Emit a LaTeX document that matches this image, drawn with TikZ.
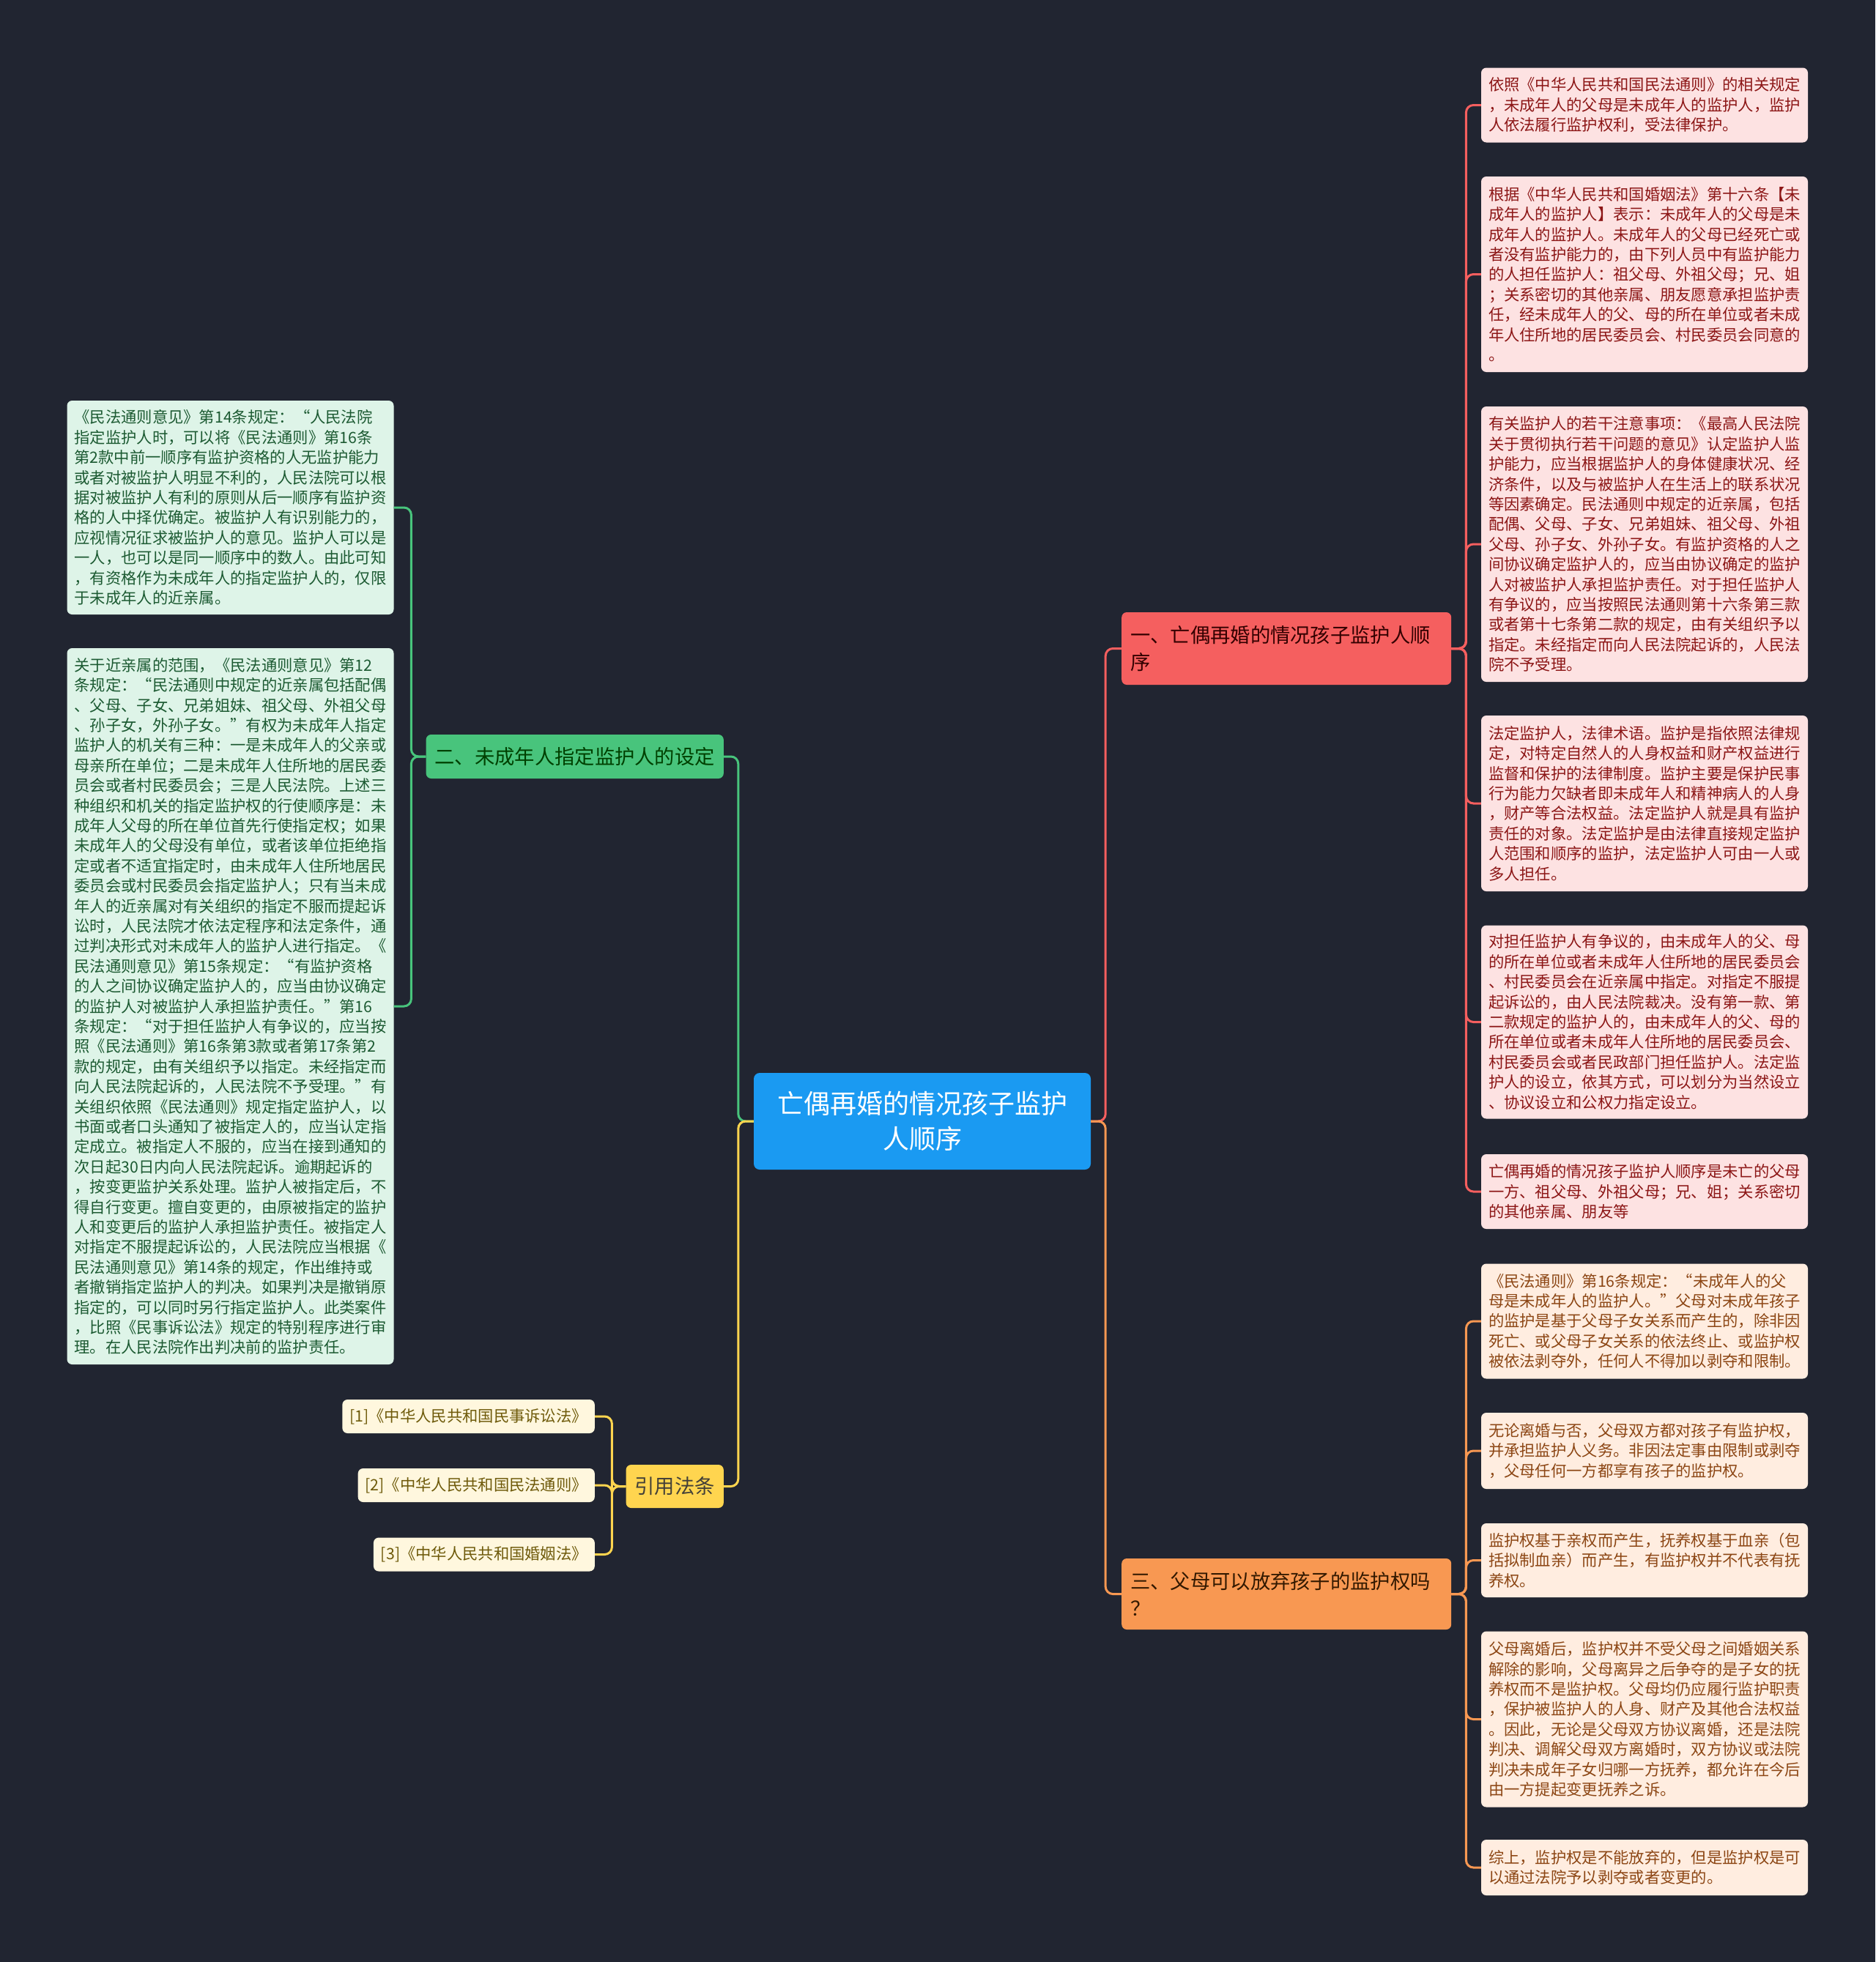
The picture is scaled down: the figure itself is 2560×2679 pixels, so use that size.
\documentclass[tikz,border=0pt]{standalone}
\usepackage{fontspec}
\setmainfont{Noto Sans CJK SC}
\usepackage{xcolor}
\usepackage{tikz}
\usetikzlibrary{positioning}

\definecolor{bgdark}{RGB}{33,37,49}
\definecolor{rootblue}{RGB}{26,154,242}
\definecolor{redmain}{RGB}{245,95,95}
\definecolor{orangemain}{RGB}{248,152,82}
\definecolor{greenmain}{RGB}{72,196,124}
\definecolor{yellowmain}{RGB}{255,213,79}
\definecolor{redleaffill}{RGB}{253,226,226}
\definecolor{orangeleaffill}{RGB}{255,237,224}
\definecolor{greenleaffill}{RGB}{222,244,232}
\definecolor{citefill}{RGB}{255,247,222}
\definecolor{redtxt}{RGB}{140,22,22}
\definecolor{orangetxt}{RGB}{140,70,20}
\definecolor{greentxt}{RGB}{28,90,50}
\definecolor{citetxt}{RGB}{110,90,10}

\begin{document}
\begin{tikzpicture}[x=1pt, y=-1pt,
  root/.style={rectangle, rounded corners=8pt, fill=rootblue, text=white, align=center, minimum width=460pt, minimum height=132pt, font=\fontsize{36}{48}\selectfont},
  branch/.style={rectangle, rounded corners=7pt, inner xsep=12pt, align=left, font=\fontsize{27.3}{37.6}\selectfont},
  leaf/.style={rectangle, rounded corners=7pt, text width=426pt, inner xsep=10pt, inner ysep=10pt, align=left, font=\fontsize{21.3}{27.4}\selectfont},
  redleaf/.style={leaf, fill=redleaffill, text=redtxt},
  orangeleaf/.style={leaf, fill=orangeleaffill, text=orangetxt},
  greenleaf/.style={leaf, fill=greenleaffill, text=greentxt},
  cite/.style={rectangle, rounded corners=7pt, fill=citefill, text=citetxt, inner xsep=10pt, minimum height=46pt, font=\fontsize{21.3}{26}\selectfont},
  link/.style={line width=3pt, rounded corners=10pt}
]
% Background
\fill[bgdark] (0,0) rectangle (2560,2679);
\useasboundingbox (0,0) rectangle (2560,2679);

% Central topic
\node[root] (root) at (1259,1531) {亡偶再婚的情况孩子监护\\人顺序};

% Branches
\node[branch, fill=redmain, text=black!80!red, anchor=west, text width=426pt, minimum height=99pt] (b1) at (1531,885.5) {一、亡偶再婚的情况孩子监护人顺\\序};
\node[branch, fill=orangemain, text=black!80!orange, anchor=west, text width=426pt, minimum height=97pt] (b3) at (1531,2176.5) {三、父母可以放弃孩子的监护权吗\\？};
\node[branch, fill=greenmain, text=black!75!green, anchor=east, minimum height=60pt] (b2) at (988,1033) {二、未成年人指定监护人的设定};
\node[branch, fill=yellowmain, text=black!85!yellow, anchor=east, minimum height=59pt] (b4) at (988,2029.5) {引用法条};

% Leaves of branch 1
\node[redleaf, minimum height=102pt] (r1) at (2245,143.5) {依照《中华人民共和国民法通则》的相关规定\\，未成年人的父母是未成年人的监护人，监护\\人依法履行监护权利，受法律保护。};
\node[redleaf, minimum height=267pt] (r2) at (2245,374.5) {根据《中华人民共和国婚姻法》第十六条【未\\成年人的监护人】表示：未成年人的父母是未\\成年人的监护人。未成年人的父母已经死亡或\\者没有监护能力的，由下列人员中有监护能力\\的人担任监护人：祖父母、外祖父母；兄、姐\\；关系密切的其他亲属、朋友愿意承担监护责\\任，经未成年人的父、母的所在单位或者未成\\年人住所地的居民委员会、村民委员会同意的\\。};
\node[redleaf, minimum height=376pt] (r3) at (2245,743) {有关监护人的若干注意事项：《最高人民法院\\关于贯彻执行若干问题的意见》认定监护人监\\护能力，应当根据监护人的身体健康状况、经\\济条件，以及与被监护人在生活上的联系状况\\等因素确定。民法通则中规定的近亲属，包括\\配偶、父母、子女、兄弟姐妹、祖父母、外祖\\父母、孙子女、外孙子女。有监护资格的人之\\间协议确定监护人的，应当由协议确定的监护\\人对被监护人承担监护责任。对于担任监护人\\有争议的，应当按照民法通则第十六条第三款\\或者第十七条第二款的规定，由有关组织予以\\指定。未经指定而向人民法院起诉的，人民法\\院不予受理。};
\node[redleaf, minimum height=240pt] (r4) at (2245,1097) {法定监护人，法律术语。监护是指依照法律规\\定，对特定自然人的人身权益和财产权益进行\\监督和保护的法律制度。监护主要是保护民事\\行为能力欠缺者即未成年人和精神病人的人身\\，财产等合法权益。法定监护人就是具有监护\\责任的对象。法定监护是由法律直接规定监护\\人范围和顺序的监护，法定监护人可由一人或\\多人担任。};
\node[redleaf, minimum height=264pt] (r5) at (2245,1395.5) {对担任监护人有争议的，由未成年人的父、母\\的所在单位或者未成年人住所地的居民委员会\\、村民委员会在近亲属中指定。对指定不服提\\起诉讼的，由人民法院裁决。没有第一款、第\\二款规定的监护人的，由未成年人的父、母的\\所在单位或者未成年人住所地的居民委员会、\\村民委员会或者民政部门担任监护人。法定监\\护人的设立，依其方式，可以划分为当然设立\\、协议设立和公权力指定设立。};
\node[redleaf, minimum height=102pt] (r6) at (2245,1627) {亡偶再婚的情况孩子监护人顺序是未亡的父母\\一方、祖父母、外祖父母；兄、姐；关系密切\\的其他亲属、朋友等};

% Leaves of branch 3
\node[orangeleaf, minimum height=157pt] (r7) at (2245,1804) {《民法通则》第16条规定：“未成年人的父\\母是未成年人的监护人。”父母对未成年孩子\\的监护是基于父母子女关系而产生的，除非因\\死亡、或父母子女关系的依法终止、或监护权\\被依法剥夺外，任何人不得加以剥夺和限制。};
\node[orangeleaf, minimum height=104pt] (r8) at (2245,1981) {无论离婚与否，父母双方都对孩子有监护权，\\并承担监护人义务。非因法定事由限制或剥夺\\，父母任何一方都享有孩子的监护权。};
\node[orangeleaf, minimum height=101pt] (r9) at (2245,2130.5) {监护权基于亲权而产生，抚养权基于血亲（包\\括拟制血亲）而产生，有监护权并不代表有抚\\养权。};
\node[orangeleaf, minimum height=240pt] (r10) at (2245,2347.5) {父母离婚后，监护权并不受父母之间婚姻关系\\解除的影响，父母离异之后争夺的是子女的抚\\养权而不是监护权。父母均仍应履行监护职责\\，保护被监护人的人身、财产及其他合法权益\\。因此，无论是父母双方协议离婚，还是法院\\判决、调解父母双方离婚时，双方协议或法院\\判决未成年子女归哪一方抚养，都允许在今后\\由一方提起变更抚养之诉。};
\node[orangeleaf, minimum height=76pt] (r11) at (2245,2550) {综上，监护权是不能放弃的，但是监护权是可\\以通过法院予以剥夺或者变更的。};

% Leaves of branch 2
\node[greenleaf, minimum height=292pt] (l1) at (314.5,693) {《民法通则意见》第14条规定：“人民法院\\指定监护人时，可以将《民法通则》第16条\\第2款中前一顺序有监护资格的人无监护能力\\或者对被监护人明显不利的，人民法院可以根\\据对被监护人有利的原则从后一顺序有监护资\\格的人中择优确定。被监护人有识别能力的，\\应视情况征求被监护人的意见。监护人可以是\\一人，也可以是同一顺序中的数人。由此可知\\，有资格作为未成年人的指定监护人的，仅限\\于未成年人的近亲属。};
\node[greenleaf, minimum height=978pt] (l2) at (314.5,1374) {关于近亲属的范围，《民法通则意见》第12\\条规定：“民法通则中规定的近亲属包括配偶\\、父母、子女、兄弟姐妹、祖父母、外祖父母\\、孙子女，外孙子女。”有权为未成年人指定\\监护人的机关有三种：一是未成年人的父亲或\\母亲所在单位；二是未成年人住所地的居民委\\员会或者村民委员会；三是人民法院。上述三\\种组织和机关的指定监护权的行使顺序是：未\\成年人父母的所在单位首先行使指定权；如果\\未成年人的父母没有单位，或者该单位拒绝指\\定或者不适宜指定时，由未成年人住所地居民\\委员会或村民委员会指定监护人；只有当未成\\年人的近亲属对有关组织的指定不服而提起诉\\讼时，人民法院才依法定程序和法定条件，通\\过判决形式对未成年人的监护人进行指定。《\\民法通则意见》第15条规定：“有监护资格\\的人之间协议确定监护人的，应当由协议确定\\的监护人对被监护人承担监护责任。”第16\\条规定：“对于担任监护人有争议的，应当按\\照《民法通则》第16条第3款或者第17条第2\\款的规定，由有关组织予以指定。未经指定而\\向人民法院起诉的，人民法院不予受理。”有\\关组织依照《民法通则》规定指定监护人，以\\书面或者口头通知了被指定人的，应当认定指\\定成立。被指定人不服的，应当在接到通知的\\次日起30日内向人民法院起诉。逾期起诉的\\，按变更监护关系处理。监护人被指定后，不\\得自行变更。擅自变更的，由原被指定的监护\\人和变更后的监护人承担监护责任。被指定人\\对指定不服提起诉讼的，人民法院应当根据《\\民法通则意见》第14条的规定，作出维持或\\者撤销指定监护人的判决。如果判决是撤销原\\指定的，可以同时另行指定监护人。此类案件\\，比照《民事诉讼法》规定的特别程序进行审\\理。在人民法院作出判决前的监护责任。};

% Cited laws
\node[cite, anchor=east] (c1) at (812,1934) {[1]《中华人民共和国民事诉讼法》};
\node[cite, anchor=east] (c2) at (812,2028) {[2]《中华人民共和国民法通则》};
\node[cite, anchor=east] (c3) at (812,2122.5) {[3]《中华人民共和国婚姻法》};

% Connections
\draw[link, redmain] (root.east) -- ++(20,0) |- (b1.west);
\draw[link, orangemain] (root.east) -- ++(20,0) |- (b3.west);
\draw[link, greenmain] (root.west) -- ++(-21,0) |- (b2.east);
\draw[link, yellowmain] (root.west) -- ++(-21,0) |- (b4.east);
\foreach \n in {r1,r2,r3,r4,r5,r6}
  \draw[link, redmain] (b1.east) -- ++(20,0) |- (\n.west);
\foreach \n in {r7,r8,r9,r10,r11}
  \draw[link, orangemain] (b3.east) -- ++(20,0) |- (\n.west);
\foreach \n in {l1,l2}
  \draw[link, greenmain] (b2.west) -- ++(-20,0) |- (\n.east);
\foreach \n in {c1,c2,c3}
  \draw[link, yellowmain] (b4.west) -- ++(-19,0) |- (\n.east);
\end{tikzpicture}
\end{document}
